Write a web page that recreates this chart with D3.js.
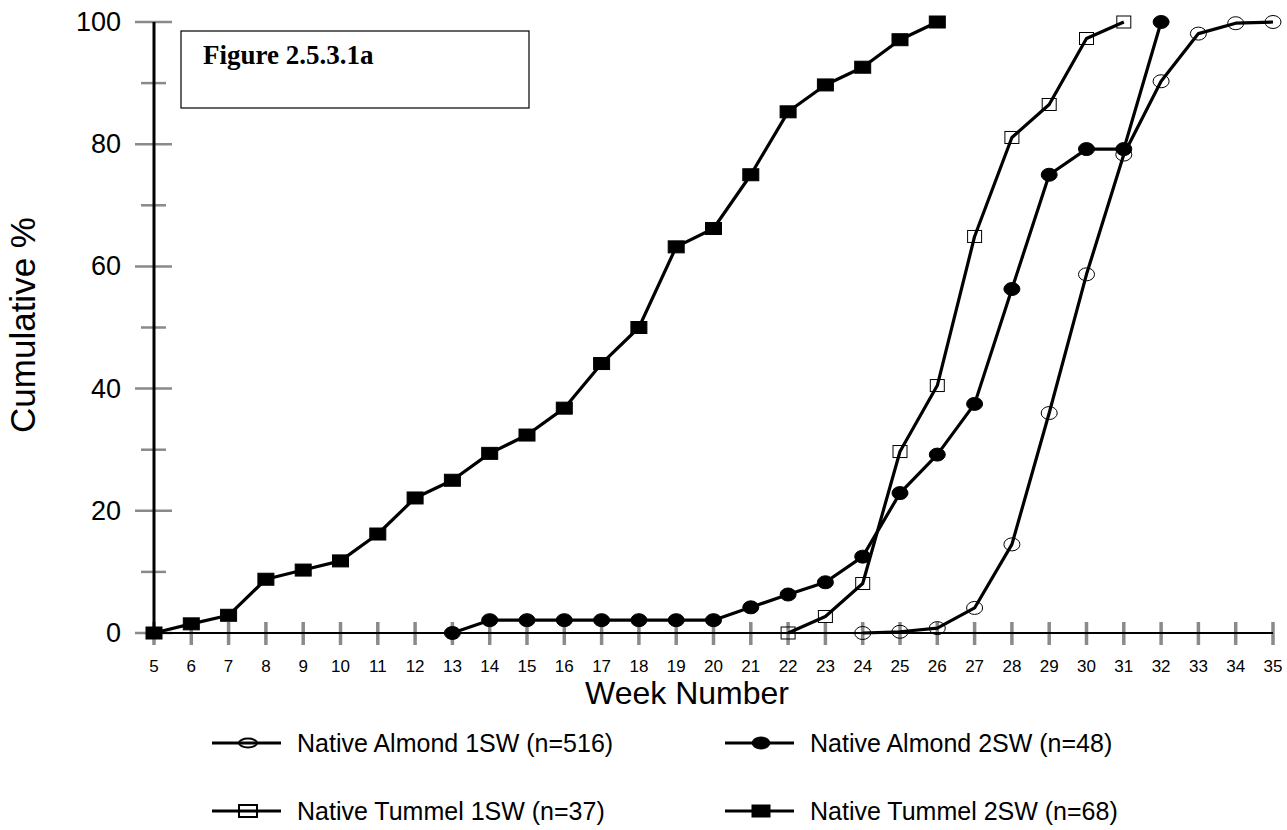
<!DOCTYPE html>
<html>
<head>
<meta charset="utf-8">
<script src="https://cdn.jsdelivr.net/npm/d3@7"></script>
<style>
  body { margin: 0; background: #fff; }
  svg { display: block; font-family: Arial, "Liberation Sans", sans-serif; }
</style>
</head>
<body>
<div id="chart"></div>
<script>
(function () {
  // week labels on the x axis
  const WEEKS = [5, 6, 7, 8, 9, 10, 11, 12, 13, 14, 15, 16, 17, 18, 19, 20,
    21, 22, 23, 24, 25, 26, 27, 28, 29, 30, 31, 32, 33, 34, 35];
  const Y_TICKS = [0, 10, 20, 30, 40, 50, 60, 70, 80, 90, 100];

  // cumulative % per week
  const almond1Weeks = [24, 25, 26, 27, 28, 29, 30, 31, 32, 33, 34, 35];
  const almond1Values = [0, 0.2, 0.8, 4.1, 14.5, 36.0, 58.7, 78.3, 90.3, 98.1, 99.8, 100];

  const almond2Weeks = [13, 14, 15, 16, 17, 18, 19, 20, 21, 22, 23, 24, 25, 26, 27, 28, 29, 30, 31, 32];
  const almond2Values = [0, 2.1, 2.1, 2.1, 2.1, 2.1, 2.1, 2.1, 4.2, 6.3, 8.3, 12.5,
    22.9, 29.2, 37.5, 56.3, 75.0, 79.2, 79.2, 100];

  const tummel1Weeks = [22, 23, 24, 25, 26, 27, 28, 29, 30, 31];
  const tummel1Values = [0, 2.7, 8.1, 29.7, 40.5, 64.9, 81.1, 86.5, 97.3, 100];

  const tummel2Weeks = [5, 6, 7, 8, 9, 10, 11, 12, 13, 14, 15, 16, 17, 18, 19, 20, 21, 22, 23, 24, 25, 26];
  const tummel2Values = [0, 1.5, 2.9, 8.8, 10.3, 11.8, 16.2, 22.1, 25.0, 29.4, 32.4,
    36.8, 44.1, 50.0, 63.2, 66.2, 75.0, 85.3, 89.7, 92.6, 97.1, 100];

  const series = [
    { name: "Native Almond 1SW (n=516)", weeks: almond1Weeks, values: almond1Values, marker: "circle", filled: false },
    { name: "Native Almond 2SW (n=48)", weeks: almond2Weeks, values: almond2Values, marker: "circle", filled: true },
    { name: "Native Tummel 1SW (n=37)", weeks: tummel1Weeks, values: tummel1Values, marker: "square", filled: false },
    { name: "Native Tummel 2SW (n=68)", weeks: tummel2Weeks, values: tummel2Values, marker: "square", filled: true },
  ];

  const width = 1287;
  const height = 830;
  const GREY = "#8a8a8a";

  const svg = d3
    .select("#chart")
    .append("svg")
    .attr("width", width)
    .attr("height", height);

  const x = d3.scaleLinear().domain([5, 35]).range([154, 1273]);
  const y = d3.scaleLinear().domain([0, 100]).range([633, 22]);

  // grey tick marks (drawn under the black axis lines)
  svg
    .append("g")
    .selectAll("line")
    .data(Y_TICKS)
    .join("line")
    .attr("x1", (d) => x(5) - (d % 20 === 0 ? 19 : 13))
    .attr("x2", (d) => x(5) + (d % 20 === 0 ? 18 : 12))
    .attr("y1", (d) => y(d))
    .attr("y2", (d) => y(d))
    .style("stroke", GREY)
    .style("stroke-width", 2.5);

  svg
    .append("g")
    .selectAll("line")
    .data(WEEKS)
    .join("line")
    .attr("x1", (d) => x(d))
    .attr("x2", (d) => x(d))
    .attr("y1", y(0) - 11)
    .attr("y2", y(0) + 12)
    .style("stroke", GREY)
    .style("stroke-width", 3.5);

  // axis lines
  svg
    .append("line")
    .attr("x1", x(5))
    .attr("x2", x(5))
    .attr("y1", y(100))
    .attr("y2", y(0))
    .style("stroke", "#000")
    .style("stroke-width", 3);
  svg
    .append("line")
    .attr("x1", x(5))
    .attr("x2", x(35))
    .attr("y1", y(0))
    .attr("y2", y(0))
    .style("stroke", "#000")
    .style("stroke-width", 2);

  // tick labels
  svg
    .append("g")
    .selectAll("text")
    .data(Y_TICKS.filter((d) => d % 20 === 0))
    .join("text")
    .attr("x", 121)
    .attr("y", (d) => y(d) + 9)
    .attr("text-anchor", "end")
    .style("font-size", "27px")
    .text((d) => d);

  svg
    .append("g")
    .selectAll("text")
    .data(WEEKS)
    .join("text")
    .attr("x", (d) => x(d))
    .attr("y", 672)
    .attr("text-anchor", "middle")
    .style("font-size", "17px")
    .text((d) => d);

  // axis titles
  svg
    .append("text")
    .attr("text-anchor", "middle")
    .attr("transform", "translate(35, 325) rotate(-90)")
    .style("font-size", "35px")
    .text("Cumulative %");

  svg
    .append("text")
    .attr("text-anchor", "middle")
    .attr("x", 687)
    .attr("y", 704)
    .style("font-size", "32px")
    .text("Week Number");

  // figure label box
  svg
    .append("rect")
    .attr("x", 181)
    .attr("y", 31)
    .attr("width", 348)
    .attr("height", 77)
    .style("fill", "#fff")
    .style("stroke", "#000")
    .style("stroke-width", 1.2);
  svg
    .append("text")
    .attr("x", 203)
    .attr("y", 64)
    .style("font-family", "'Liberation Serif', 'Times New Roman', serif")
    .style("font-weight", "bold")
    .style("font-size", "27px")
    .text("Figure 2.5.3.1a");

  const line = d3
    .line()
    .x((d) => x(d[0]))
    .y((d) => y(d[1]));

  function drawMarker(sel, s, size) {
    if (s.marker === "circle") {
      sel
        .append("ellipse")
        .attr("rx", size.rx)
        .attr("ry", s.filled ? size.ry : size.ryOpen)
        .style("fill", s.filled ? "#000" : "none")
        .style("stroke", "#000")
        .style("stroke-width", s.filled ? 1 : size.openStroke);
    } else {
      const w = s.filled ? size.sq : size.sqOpen;
      sel
        .append("rect")
        .attr("x", -w / 2)
        .attr("y", -size.sqh / 2)
        .attr("width", w)
        .attr("height", size.sqh)
        .style("fill", s.filled ? "#000" : "none")
        .style("stroke", "#000")
        .style("stroke-width", s.filled ? 1 : size.openStroke);
    }
  }

  const plotSize = { rx: 8, ry: 6.5, ryOpen: 6.5, sq: 16, sqOpen: 14, sqh: 12, openStroke: 1 };
  const legendSize = { rx: 9, ry: 6, ryOpen: 4.5, sq: 18, sqOpen: 18, sqh: 12, openStroke: 2 };

  series.forEach((s) => {
    const pts = s.weeks.map((w, i) => [w, s.values[i]]);

    svg
      .append("path")
      .datum(pts)
      .attr("d", line)
      .style("fill", "none")
      .style("stroke", "#000")
      .style("stroke-width", 3.2)
      .style("stroke-linejoin", "round");

    svg
      .append("g")
      .selectAll("g")
      .data(pts)
      .join("g")
      .attr("transform", (d) => `translate(${x(d[0])}, ${y(d[1])})`)
      .each(function () {
        drawMarker(d3.select(this), s, plotSize);
      });
  });

  // legend
  const legendPos = [
    { x: 212, y: 743 },
    { x: 725, y: 743 },
    { x: 212, y: 811 },
    { x: 725, y: 811 },
  ];

  series.forEach((s, i) => {
    const p = legendPos[i];
    const g = svg.append("g").attr("transform", `translate(${p.x}, ${p.y})`);
    g.append("line")
      .attr("x1", 0)
      .attr("x2", 69)
      .attr("y1", 0)
      .attr("y2", 0)
      .style("stroke", "#000")
      .style("stroke-width", 3);
    drawMarker(g.append("g").attr("transform", "translate(36, 0)"), s, legendSize);
    g.append("text")
      .attr("x", 85)
      .attr("y", 9)
      .style("font-size", "25px")
      .text(s.name);
  });
})();
</script>
</body>
</html>
